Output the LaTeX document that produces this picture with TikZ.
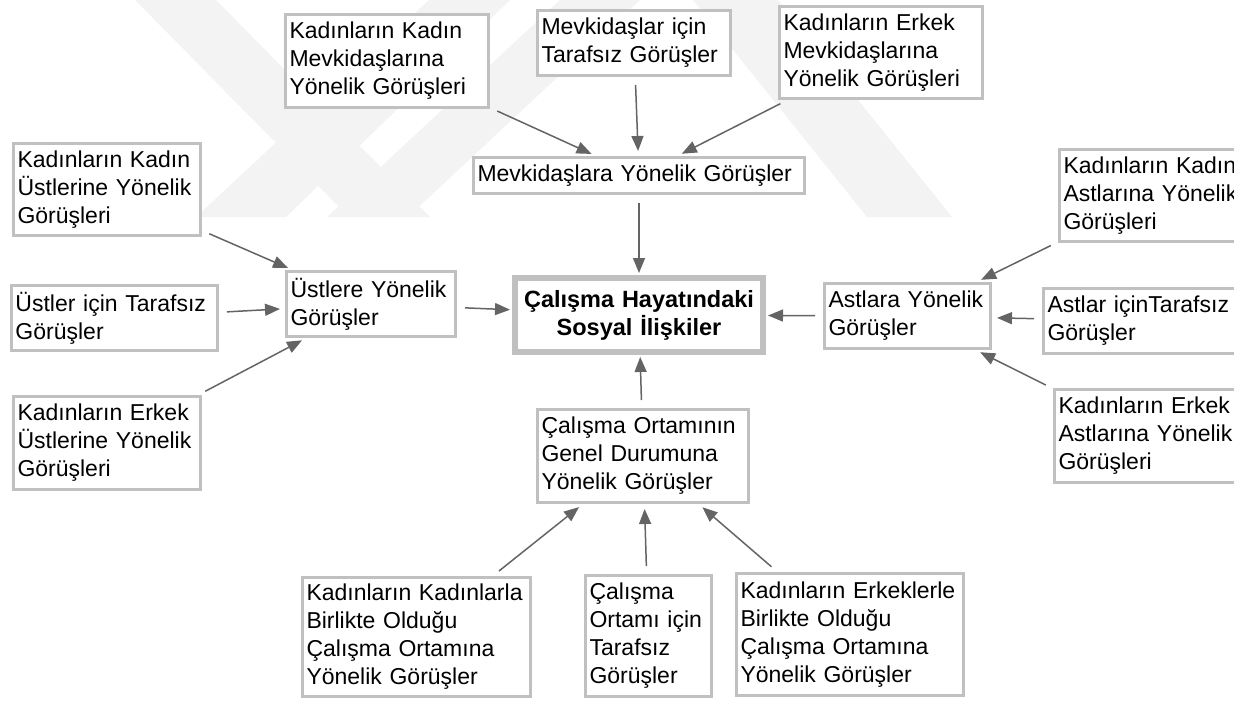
\documentclass[tikz,border=0pt]{standalone}
\usepackage{fontspec}
\setmainfont{Liberation Sans}
\usepackage{xcolor}
\usetikzlibrary{arrows,arrows.meta,positioning,calc}

\definecolor{boxgray}{RGB}{192,192,192}
\definecolor{arrowgray}{RGB}{100,100,100}
\definecolor{markgray}{RGB}{243,243,243}

\tikzset{
    box/.style={draw=boxgray, line width=3pt, fill=white, align=left,
        inner xsep=4pt, inner ysep=4pt, font=\fontsize{23}{28}\selectfont,
        execute at begin node={\hyphenpenalty=10000\relax}},
    mainbox/.style={box, line width=6pt, align=center, inner xsep=6pt,
        font=\fontsize{23.5}{28}\selectfont\bfseries},
    link/.style={draw=arrowgray, line width=1.5pt,
        -{Triangle[length=15pt,width=12pt]}, shorten <=8pt, shorten >=5pt},
    tomain/.style={link, shorten >=2pt}
}

\begin{document}
\begin{tikzpicture}[x=1pt,y=-1pt]
    \useasboundingbox (0,0) rectangle (1234,704);

    % Watermark
    \fill[markgray] (135,0) -- (216,0) -- (430,217) -- (349,217) -- cycle;
    \fill[markgray] (196,217) -- (286,217) -- (510,0) -- (429,0) -- cycle;
    \fill[markgray] (327,217) -- (408,217) -- (640,0) -- (560,0) -- cycle;
    \fill[markgray] (693,0) -- (778,0) -- (952,217) -- (867,217) -- cycle;

    % Centre
    \node[mainbox, text width=236pt, minimum height=74pt] (sosyal) at (639,315)
        {Çalışma Hayatındaki\\Sosyal İlişkiler};

    % Mevkidaşlar
    \node[box, text width=195pt, minimum height=93pt] (kadinmevki) at (387,61)
        {Kadınların Kadın\\Mevkidaşlarına\\Yönelik Görüşleri};
    \node[box, text width=185pt, minimum height=65pt] (tarafsizmevki) at (634,43)
        {Mevkidaşlar için\\Tarafsız Görüşler};
    \node[box, text width=195pt, minimum height=92pt] (erkekmevki) at (881,52.5)
        {Kadınların Erkek\\Mevkidaşlarına\\Yönelik Görüşleri};
    \node[box, text width=323pt, minimum height=36pt] (mevki) at (639,175.5)
        {Mevkidaşlara Yönelik Görüşler};

    % Üstler
    \node[box, text width=179pt, minimum height=92pt] (kadinust) at (107,189.5)
        {Kadınların Kadın\\Üstlerine Yönelik\\Görüşleri};
    \node[box, text width=198pt, minimum height=65pt] (tarafsizust) at (114.5,318)
        {Üstler için Tarafsız\\Görüşler};
    \node[box, text width=179pt, minimum height=93pt] (erkekust) at (107,443)
        {Kadınların Erkek\\Üstlerine Yönelik\\Görüşleri};
    \node[box, text width=161pt, minimum height=65pt] (ust) at (371,304)
        {Üstlere Yönelik\\Görüşler};

    % Astlar
    \node[box, text width=179pt, minimum height=92pt] (kadinast) at (1153,195.5)
        {Kadınların Kadın\\Astlarına Yönelik\\Görüşleri};
    \node[box, text width=198pt, minimum height=65pt] (tarafsizast) at (1146.5,321)
        {Astlar içinTarafsız\\Görüşler};
    \node[box, text width=179pt, minimum height=93pt] (erkekast) at (1148,436)
        {Kadınların Erkek\\Astlarına Yönelik\\Görüşleri};
    \node[box, text width=158pt, minimum height=65pt] (ast) at (907.5,316)
        {Astlara Yönelik\\Görüşler};

    % Çalışma ortamı
    \node[box, text width=203pt, minimum height=93pt] (ortam) at (643,456)
        {Çalışma Ortamının\\Genel Durumuna\\Yönelik Görüşler};
    \node[box, text width=220pt, minimum height=119pt] (kadinortam) at (416.5,637)
        {Kadınların Kadınlarla\\Birlikte Olduğu\\Çalışma Ortamına\\Yönelik Görüşler};
    \node[box, text width=118pt, minimum height=121pt] (tarafsizortam) at (648.5,636)
        {Çalışma\\Ortamı için\\Tarafsız\\Görüşler};
    \node[box, text width=219pt, minimum height=122pt] (erkekortam) at (850,634.5)
        {Kadınların Erkeklerle\\Birlikte Olduğu\\Çalışma Ortamına\\Yönelik Görüşler};

    % Arrows
    \draw[link] (kadinmevki) -- (mevki);
    \draw[link] (tarafsizmevki) -- (mevki);
    \draw[link] (erkekmevki) -- (mevki);
    \draw[tomain] (mevki) -- (sosyal);

    \draw[link] (kadinust) -- (ust);
    \draw[link] (tarafsizust) -- (ust);
    \draw[link] (erkekust) -- (ust);
    \draw[tomain] (ust) -- (sosyal);

    \draw[link] (kadinast) -- (ast);
    \draw[link] (tarafsizast) -- (ast);
    \draw[link] (erkekast) -- (ast);
    \draw[tomain] (ast) -- (sosyal);

    \draw[link] (kadinortam) -- (ortam);
    \draw[link] (tarafsizortam) -- (ortam);
    \draw[link] (erkekortam) -- (ortam);
    \draw[tomain] (ortam) -- (sosyal);
\end{tikzpicture}
\end{document}
